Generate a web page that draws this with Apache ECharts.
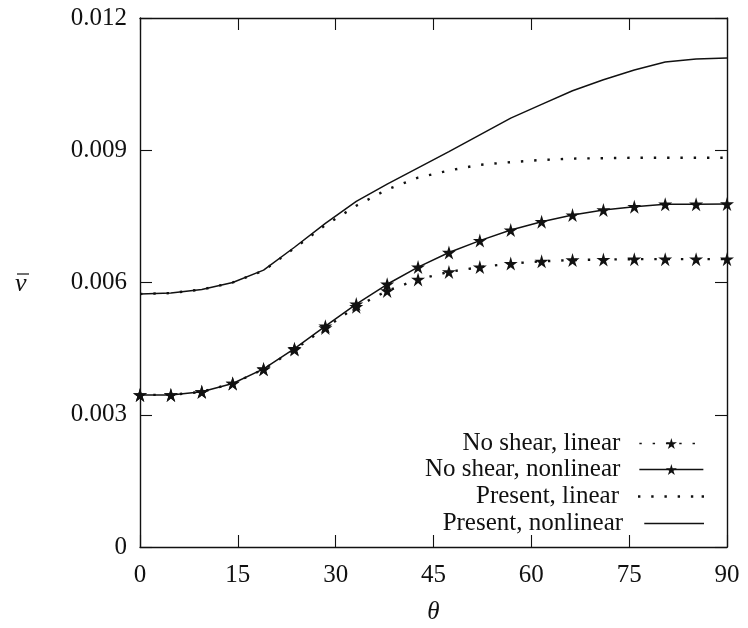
<!DOCTYPE html>
<html>
<head>
<meta charset="utf-8">
<script src="https://cdn.jsdelivr.net/npm/echarts@6/dist/echarts.min.js"></script>
<style>
  html, body { margin: 0; padding: 0; background: #fff; }
  #chart { width: 748px; height: 628px; }
</style>
</head>
<body>
<div id="chart"></div>
<script>
// Rotation angle θ (degrees), 20 evenly spaced stations from 0 to 90
const theta = [0, 4.737, 9.474, 14.211, 18.947, 23.684, 28.421, 33.158, 37.895, 42.632,
               47.368, 52.105, 56.842, 61.579, 66.316, 71.053, 75.789, 80.526, 85.263, 90];

// Nondimensional deflection v̄ (x 1e-3)
const noShearLinear    = [3.45, 3.45, 3.52, 3.71, 4.03, 4.48, 4.97, 5.45, 5.81, 6.07,
                          6.24, 6.35, 6.43, 6.48, 6.51, 6.52, 6.53, 6.53, 6.53, 6.53];
const noShearNonlinear = [3.45, 3.45, 3.52, 3.71, 4.04, 4.50, 5.01, 5.51, 5.96, 6.35,
                          6.68, 6.95, 7.19, 7.38, 7.53, 7.645, 7.72, 7.775, 7.775, 7.78];
const presentLinear    = [5.74, 5.76, 5.84, 6.00, 6.27, 6.78, 7.30, 7.74, 8.11, 8.38,
                          8.54, 8.67, 8.73, 8.78, 8.81, 8.82, 8.83, 8.83, 8.83, 8.83];
const presentNonlinear = [5.74, 5.76, 5.84, 6.00, 6.28, 6.80, 7.34, 7.84, 8.23, 8.60,
                          8.97, 9.35, 9.73, 10.04, 10.35, 10.60, 10.82, 11.00, 11.07, 11.09];

const seriesNames = ['No shear, linear', 'No shear, nonlinear', 'Present, linear', 'Present, nonlinear'];

const xTicks = [0, 15, 30, 45, 60, 75, 90];
const yTicks = [0, 0.003, 0.006, 0.009, 0.012];

const pair = (ys) => theta.map((t, i) => [t, ys[i] / 1000]);

const FONT = 'Liberation Serif';
const INK = '#111';
const STAR = 'path://M50,0 L60.5,34.5 L97.6,34.5 L67.6,56 L79.4,90.5 L50,69 L20.6,90.5 L32.4,56 L2.4,34.5 L39.5,34.5 Z';
const DOTS = [2.4, 10.9];

// Legend keys for the curves drawn without markers
const SOLID_KEY = 'path://M0,0h64v1.5h-64z';
const DOTTED_KEY = 'path://M0,0h2.4v2.4h-2.4z M13.3,0h2.4v2.4h-2.4z M26.6,0h2.4v2.4h-2.4z M39.9,0h2.4v2.4h-2.4z M53.2,0h2.4v2.4h-2.4z M64,0h2.4v2.4h-2.4z';

const chart = echarts.init(document.getElementById('chart'), null, { renderer: 'canvas' });

const baseAxisLine = { show: true, onZero: false, lineStyle: { color: INK, width: 1.4 } };
const baseTick = { show: true, inside: true, length: 12, lineStyle: { color: INK, width: 1.1 } };

function legendFor(name, top, icon, iconW, iconH) {
  const item = icon ? { name: name, icon: icon } : { name: name };
  return {
    data: [item],
    right: 44,
    top: top,
    orient: 'horizontal',
    align: 'right',
    itemWidth: iconW,
    itemHeight: iconH,
    itemGap: 0,
    padding: 0,
    selectedMode: false,
    lineStyle: { width: 1.3 },
    textStyle: { fontFamily: FONT, fontSize: 25, color: INK, padding: [0, 14, 0, 0] }
  };
}

chart.setOption({
  animation: false,
  backgroundColor: '#fff',
  textStyle: { fontFamily: FONT, color: INK },
  grid: { left: 140, right: 21, top: 18, bottom: 81, containLabel: false, outerBoundsMode: 'none' },
  legend: [
    legendFor(seriesNames[0], 431, null, 64, 14),
    legendFor(seriesNames[1], 457, null, 64, 14),
    legendFor(seriesNames[2], 484, DOTTED_KEY, 66, 2.4),
    legendFor(seriesNames[3], 511, SOLID_KEY, 64, 1.4)
  ],
  xAxis: [
    {
      type: 'value', min: 0, max: 90, interval: 15,
      name: 'θ', nameLocation: 'middle', nameGap: 53,
      nameTextStyle: { fontFamily: FONT, fontSize: 25, fontStyle: 'italic', color: INK },
      axisLine: baseAxisLine, axisTick: baseTick,
      axisLabel: { margin: 16, fontFamily: FONT, fontSize: 25, color: INK,
                   formatter: (v) => xTicks.includes(v) ? String(v) : '' },
      splitLine: { show: false }
    },
    {
      type: 'value', min: 0, max: 90, interval: 15, position: 'top',
      axisLine: baseAxisLine, axisTick: baseTick,
      axisLabel: { show: false }, splitLine: { show: false }
    }
  ],
  yAxis: [
    {
      type: 'value', min: 0, max: 0.012, interval: 0.003,
      axisLine: baseAxisLine, axisTick: baseTick,
      axisLabel: { margin: 13, fontFamily: FONT, fontSize: 25, color: INK,
                   formatter: (v) => {
                     const t = yTicks.find((y) => Math.abs(y - v) < 1e-9);
                     return t === undefined ? '' : (t === 0 ? '0' : t.toFixed(3));
                   } },
      splitLine: { show: false }
    },
    {
      type: 'value', min: 0, max: 0.012, interval: 0.003, position: 'right',
      axisLine: baseAxisLine, axisTick: baseTick,
      axisLabel: { show: false }, splitLine: { show: false }
    }
  ],
  graphic: [
    // y-axis title: italic v with an overbar
    {
      type: 'text', left: 15, top: 271,
      style: { text: 'v', fontFamily: FONT, fontSize: 26, fontStyle: 'italic', fill: INK }
    },
    {
      type: 'line', shape: { x1: 17, y1: 274, x2: 29, y2: 274 },
      style: { stroke: INK, lineWidth: 1.2 }
    }
  ],
  series: [
    {
      name: seriesNames[0], type: 'line', data: pair(noShearLinear),
      symbol: STAR, symbolSize: 14, showSymbol: true,
      itemStyle: { color: INK },
      lineStyle: { color: INK, width: 2.4, type: DOTS, cap: 'butt' },
      z: 3
    },
    {
      name: seriesNames[1], type: 'line', data: pair(noShearNonlinear),
      symbol: STAR, symbolSize: 14, showSymbol: true,
      itemStyle: { color: INK },
      lineStyle: { color: INK, width: 1.5 },
      z: 4
    },
    {
      name: seriesNames[2], type: 'line', data: pair(presentLinear),
      symbol: 'none',
      itemStyle: { color: INK },
      lineStyle: { color: INK, width: 2.4, type: DOTS, cap: 'butt' },
      z: 3
    },
    {
      name: seriesNames[3], type: 'line', data: pair(presentNonlinear),
      symbol: 'none',
      itemStyle: { color: INK },
      lineStyle: { color: INK, width: 1.5 },
      z: 4
    }
  ]
});
</script>
</body>
</html>
